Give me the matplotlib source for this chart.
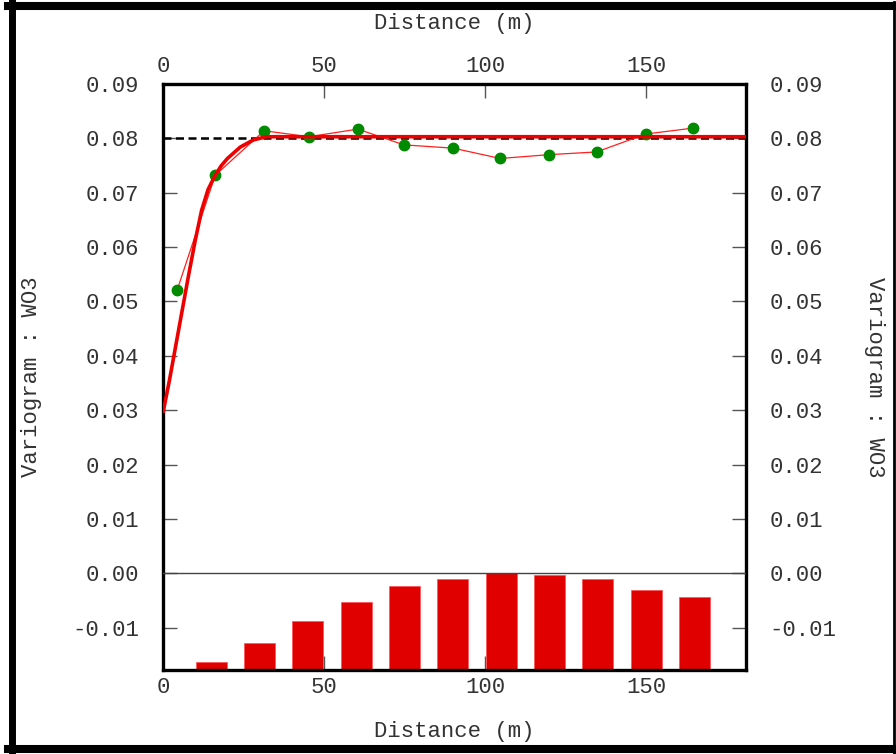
import matplotlib
matplotlib.use("Agg")
from matplotlib import pyplot as plt
from matplotlib.lines import Line2D

# experimental variogram (lag distance, value)
lag = [4.4, 16.2, 31.4, 45.3, 60.5, 74.8, 90.1, 104.7, 119.8, 134.6, 149.9, 164.7]
gamma = [0.0521, 0.0732, 0.0814, 0.0803, 0.0817, 0.0788, 0.0782, 0.0763, 0.0770, 0.0775, 0.0808, 0.0819]

# fitted model
model_h = [0, 2, 4, 6, 8, 10, 12, 14, 16, 18, 20, 24, 28, 32, 181]
model_g = [0.0295, 0.0355, 0.0420, 0.0485, 0.0550, 0.0612, 0.0668, 0.0706, 0.0730,
           0.0749, 0.0763, 0.0784, 0.0797, 0.0803, 0.0803]

sill = 0.08

# number of pairs histogram (bar centres and tops in variogram units)
bar_x = [15, 30, 45, 60, 75, 90, 105, 120, 135, 150, 165]
bar_top = [-0.0164, -0.0128, -0.0087, -0.0052, -0.0024, -0.0011, 0.0,
           -0.0004, -0.0011, -0.0031, -0.0044]

x_ticks = [0, 50, 100, 150]
y_ticks = [-0.01, 0.0, 0.01, 0.02, 0.03, 0.04, 0.05, 0.06, 0.07, 0.08, 0.09]

x_min, x_max = 0, 181
y_min, y_max = -0.0178, 0.09


def main():
    plt.rcParams['font.family'] = ['Liberation Mono', 'DejaVu Sans Mono']
    text_col = '#333333'

    fig = plt.figure(figsize=(8.96, 7.54), dpi=100)
    ax = fig.add_axes([163 / 896, 84 / 754, 583 / 896, 586 / 754])

    ax.bar(bar_x, [t - y_min for t in bar_top], bottom=y_min, width=9.6,
           color='#e00000', edgecolor='#ff5050', linewidth=0.5, zorder=2)
    ax.axhline(0, color='#444444', lw=1.0, zorder=3)

    dash, = ax.plot([x_min, x_max], [sill, sill], color='black', lw=1.8, zorder=3)
    dash.set_dashes((3.2, 1.8))

    ax.plot(lag, gamma, color='#ff2020', lw=0.9, zorder=4)
    ax.plot(lag, gamma, 'o', color='#008a00', markersize=7.5, zorder=5)
    ax.plot(model_h, model_g, color='#ee0000', lw=2.6, zorder=6, solid_capstyle='butt')

    ax.set_xlim(x_min, x_max)
    ax.set_ylim(y_min, y_max)
    ax.set_xticks(x_ticks)
    ax.set_yticks(y_ticks)
    ax.set_yticklabels(['%.2f' % v for v in y_ticks])

    for s in ax.spines.values():
        s.set_linewidth(2.4)
        s.set_color('black')

    ax.tick_params(direction='in', length=10, width=1, color='#555555',
                   labelsize=16, labelcolor=text_col)
    ax.tick_params(axis='x', top=True, labeltop=True, pad=5)
    ax.tick_params(axis='y', right=True, labelright=True, pad=17)

    fig.text(454 / 896, 1 - 24 / 754, 'Distance (m)', ha='center', va='center',
             fontsize=16, color=text_col)
    fig.text(454 / 896, 1 - 731 / 754, 'Distance (m)', ha='center', va='center',
             fontsize=16, color=text_col)
    fig.text(32 / 896, 1 - 377 / 754, 'Variogram : WO3', ha='center', va='center',
             rotation=90, fontsize=16, color=text_col)
    fig.text(874 / 896, 1 - 377 / 754, 'Variogram : WO3', ha='center', va='center',
             rotation=270, fontsize=16, color=text_col)

    # outer frame
    W, H = 896.0, 754.0
    frame = [
        ((8, 895), (6, 6), 5.8),
        ((8, 895), (749, 749), 5.8),
        ((11.5, 11.5), (2, 753), 5.0),
        ((893.5, 893.5), (2, 753), 2.0),
    ]
    for xs, ys, lw in frame:
        fig.add_artist(Line2D([x / W for x in xs], [1 - y / H for y in ys],
                              color='black', lw=lw, transform=fig.transFigure))

    plt.savefig('out.png', dpi=100)


if __name__ == '__main__':
    main()
